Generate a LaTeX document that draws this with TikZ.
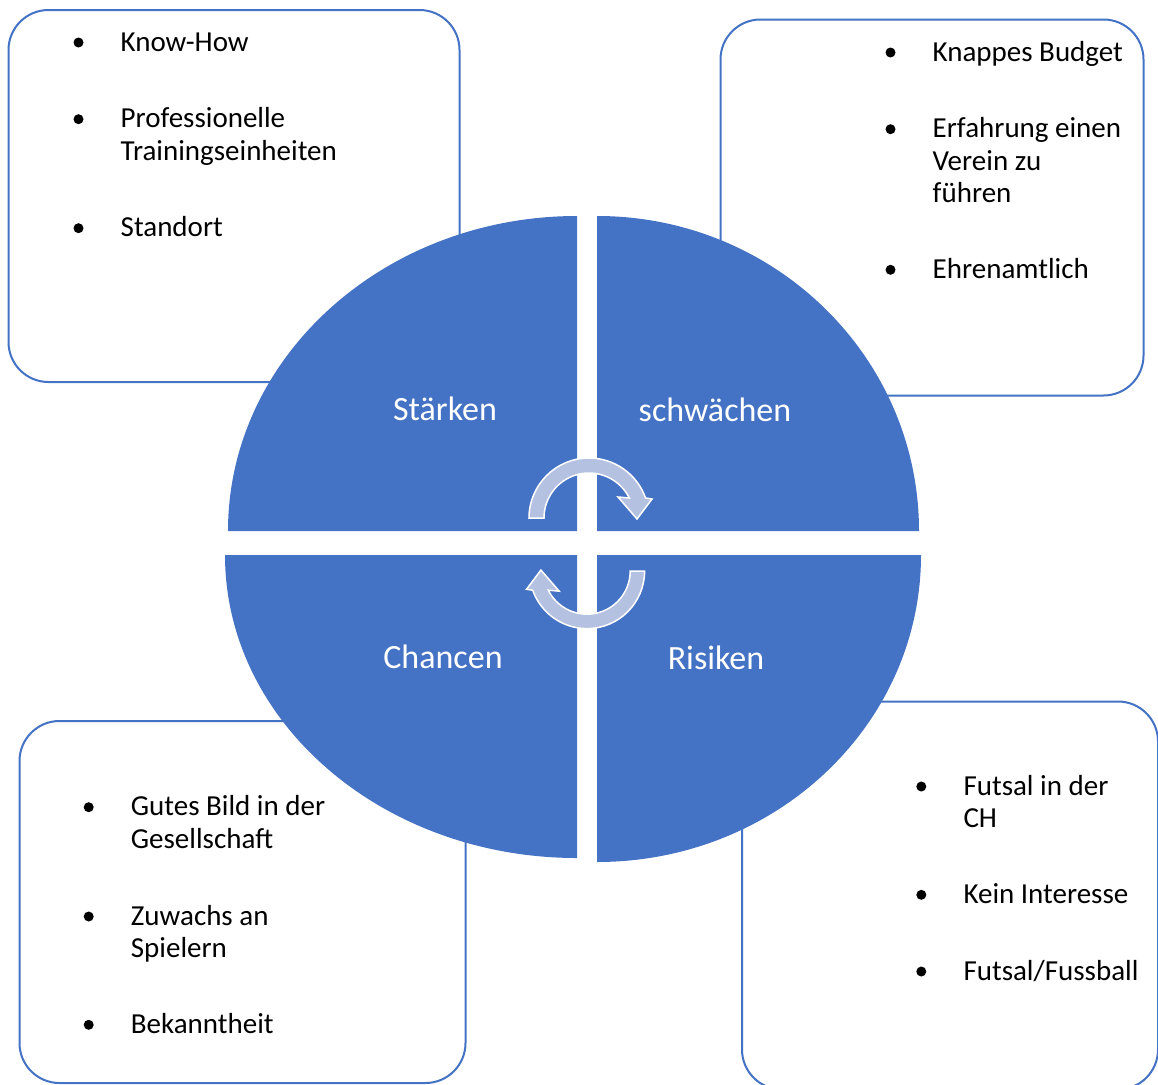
\documentclass[tikz,border=0pt]{standalone}
\usepackage{fontspec}
\setmainfont{Carlito}
\definecolor{swotblue}{HTML}{4472C4}
\definecolor{arrowblue}{HTML}{B4C1E1}

\def\dotRad{5}
\def\lineSkip{32.3}

\begin{document}
\begin{tikzpicture}[
    x=1pt, y=1pt,
    panel/.style={draw=swotblue, line width=2pt, fill=white, rounded corners=40pt,
      anchor=north west, inner sep=0},
    quarter/.style={fill=swotblue},
    title/.style={text=white, anchor=base, font=\fontsize{34}{40}\selectfont},
    item/.style={anchor=base west, align=left, inner sep=0, font=\fontsize{29}{\lineSkip}\selectfont},
    swirl/.style={fill=arrowblue, draw=white, line width=1.5pt},
  ]
  \useasboundingbox (0,0) rectangle (1158,-1084);

  % Panels
  \node [panel, minimum width=451, minimum height=372] (strengthsbox) at (7.5,-9) {};
  \node [panel, minimum width=423, minimum height=376] (weaknessbox) at (719.5,-18.5) {};
  \node [panel, minimum width=446, minimum height=362] (chancebox) at (18.5,-720) {};
  \node [panel, minimum width=416, minimum height=388] (riskbox) at (741,-700.5) {};

  % Items (y = baseline of first line, n = number of lines)
  \foreach \x/\y/\n/\itm [count=\i] in
    {120.5/51/1/Know-How, 120.5/127.7/2/Professionelle\\Trainingseinheiten, 120.5/236.7/1/Standort,
     932.5/61/1/Knappes Budget, 932.5/137.7/3/Erfahrung einen\\Verein zu\\führen, 932.5/278.3/1/Ehrenamtlich,
     130.7/815.7/2/Gutes Bild in der\\Gesellschaft, 130.7/925/2/Zuwachs an\\Spielern, 130.7/1033.3/1/Bekanntheit,
     963.3/795/2/Futsal in der\\CH, 963.3/903.3/1/Kein Interesse, 963.3/980/1/{Futsal/Fussball}} {
      \node [item] (item\i) at (\x,-\y-\n*\lineSkip+\lineSkip) {\itm};
      \fill (\x-42,-\y+8.5) circle (\dotRad);
    }

  % Quadrants
  \fill [quarter] (577,-531) -- (228,-531) arc[start angle=180, end angle=90, x radius=349, y radius=315] -- cycle;
  \fill [quarter] (597,-531) -- (597,-216) arc[start angle=90, end angle=0, x radius=322, y radius=315] -- cycle;
  \fill [quarter] (577,-555) -- (225,-555) arc[start angle=180, end angle=270, x radius=352, y radius=303] -- cycle;
  \fill [quarter] (597,-555) -- (921,-555) arc[start angle=0, end angle=-90, x radius=324, y radius=307] -- cycle;

  \node [title] (staerken) at (445,-420) {Stärken};
  \node [title] (schwaechen) at (715,-421) {schwächen};
  \node [title] (chancen) at (443,-668) {Chancen};
  \node [title] (risiken) at (716,-669) {Risiken};

  % Cycle arrows
  \foreach \cx/\cy/\r/\s in {589/518/0/1, 587/571/180/0.96} {
      \path [swirl, shift={(\cx,-\cy)}, rotate=\r, scale=\s]
        (180:60) arc[start angle=180, end angle=19.5, radius=60] -- (63,19) -- (48,-1) -- (29,21)
        -- (26.4:45) arc[start angle=26.4, end angle=180, radius=45] -- cycle;
    }
\end{tikzpicture}
\end{document}
